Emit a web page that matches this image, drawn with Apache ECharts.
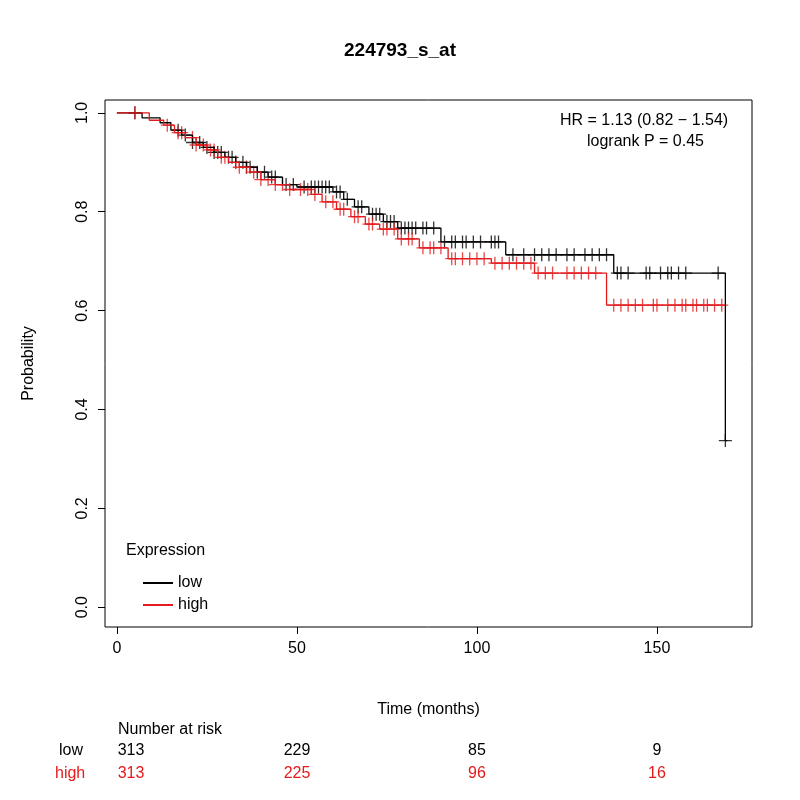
<!DOCTYPE html>
<html><head><meta charset="utf-8">
<script src="https://cdn.jsdelivr.net/npm/echarts@6/dist/echarts.min.js"></script>
<style>body{margin:0}#c{width:800px;height:800px}</style></head>
<body><div id="c"></div>
<script>
// step points [time, survival]
var lowSteps = [[0,1],[7,0.99],[12,0.98],[15,0.965],[18,0.955],[21,0.94],[24,0.93],[27,0.92],[30,0.91],[33,0.9],[36,0.89],[39,0.88],[42,0.87],[46,0.855],[50,0.85],[60,0.84],[63,0.825],[66,0.81],[70,0.795],[74,0.78],[78,0.767],[90,0.739],[108,0.713],[138,0.676],[169,0.337],[169.5,0.337]];
var highSteps = [[0,1],[9,0.985],[13,0.975],[16,0.96],[19,0.95],[22,0.935],[25,0.925],[28,0.91],[31,0.9],[34,0.89],[37,0.88],[40,0.865],[44,0.855],[48,0.845],[54,0.835],[57,0.82],[61,0.805],[65,0.79],[69,0.775],[73,0.765],[78,0.745],[84,0.727],[92,0.705],[104,0.696],[116,0.676],[136,0.611],[169,0.611]];
var lowCensor = [5,17,19,21,23,25,27,28,29,31,32,33,35,36,37,39,41,43,44,47,49,52,54,55,56,57,58,59,61,62,64,67,68,71,72,73,75,76,77,79,80,81,82,83,85,86,88,91,93,94,96,97,99,101,104,105,106,110,113,116,118,120,122,125,127,130,132,134,136,139,140,142,147,148,151,153,154,156,158,167,169];
var highCensor = [5,14,17,18,21,22,24,26,27,29,30,33,34,36,38,40,42,44,46,48,51,53,55,58,60,62,63,66,67,70,71,74,75,77,79,81,82,85,87,88,90,93,94,96,98,100,102,105,107,109,111,113,115,117,119,121,125,127,129,131,133,138,140,142,144,146,149,150,153,155,157,158,160,161,163,164,166,168];
var riskTimes = [0, 50, 100, 150];
var riskLow = [313, 229, 85, 9];
var riskHigh = [313, 225, 96, 16];
var yTicks = [0, 0.2, 0.4, 0.6, 0.8, 1];

function survAt(steps, t) {
  var v = steps[0][1];
  for (var i = 0; i < steps.length; i++) { if (steps[i][0] <= t) v = steps[i][1]; }
  return v;
}
var plus = 'path://M-1,-10H1V-1H10V1H1V10H-1V1H-10V-1H-1Z';
var chart = echarts.init(document.getElementById('c'));
var font = 'Liberation Sans, Arial, sans-serif';
function xpx(t) { return 117 + t * 3.6; }
var graphics = [
  {type:'text', left:560, top:113, style:{text:'HR = 1.13 (0.82 − 1.54)', font:'16px ' + font, fill:'#000'}},
  {type:'text', left:587, top:134, style:{text:'logrank P = 0.45', font:'16px ' + font, fill:'#000'}},
  {type:'text', left:126, top:543, style:{text:'Expression', font:'16px ' + font, fill:'#000'}},
  {type:'text', left:118, top:722, style:{text:'Number at risk', font:'16px ' + font, fill:'#000'}},
  {type:'text', left:59, top:743, style:{text:'low', font:'16px ' + font, fill:'#000'}},
  {type:'text', left:55, top:766, style:{text:'high', font:'16px ' + font, fill:'#e41a1c'}}
];
riskTimes.forEach(function (t, i) {
  graphics.push({type:'text', x:xpx(t) + (i === 0 ? 14 : 0), y:743, style:{text:String(riskLow[i]), font:'16px ' + font, fill:'#000', align:'center'}});
  graphics.push({type:'text', x:xpx(t) + (i === 0 ? 14 : 0), y:766, style:{text:String(riskHigh[i]), font:'16px ' + font, fill:'#e41a1c', align:'center'}});
});
chart.setOption({
  animation:false,
  title:{text:'224793_s_at', left:'center', top:36, textStyle:{fontFamily:font, fontSize:19, fontWeight:'bold', color:'#000'}},
  grid:{left:105, right:48, top:100, bottom:173, show:true, borderColor:'#000', borderWidth:1},
  legend:{left:138, top:570, orient:'vertical', itemWidth:30, itemHeight:2, itemGap:6, icon:'rect',
    data:['low','high'], textStyle:{fontFamily:font, fontSize:16, color:'#000'}},
  xAxis:{type:'value', min:-3.3, max:176.4, position:'bottom', name:'Time (months)', nameLocation:'middle', nameGap:75,
    nameTextStyle:{fontFamily:font, fontSize:16, color:'#000'},
    axisLine:{show:false, onZero:false}, splitLine:{show:false},
    axisTick:{show:true, inside:false, length:7, customValues:riskTimes, lineStyle:{color:'#000'}},
    axisLabel:{customValues:riskTimes, margin:14, fontFamily:font, fontSize:16, color:'#000'}},
  yAxis:{type:'value', min:-0.04, max:1.026, position:'left', name:'Probability', nameLocation:'middle', nameGap:68,
    nameTextStyle:{fontFamily:font, fontSize:16, color:'#000'},
    axisLine:{show:false, onZero:false}, splitLine:{show:false},
    axisTick:{show:true, inside:false, length:7, customValues:yTicks, lineStyle:{color:'#000'}},
    axisLabel:{customValues:yTicks, rotate:90, margin:14, fontFamily:font, fontSize:16, color:'#000',
      formatter:function(v){return v.toFixed(1);}}},
  graphic:graphics,
  series:[
    {name:'low', type:'line', step:'end', data:lowSteps, showSymbol:false, color:'#000', lineStyle:{width:1.3, color:'#000'}},
    {name:'high', type:'line', step:'end', data:highSteps, showSymbol:false, color:'#e41a1c', lineStyle:{width:1.3, color:'#e41a1c'}},
    {name:'lowc', type:'scatter', symbol:plus, symbolSize:13, itemStyle:{color:'#000'},
      data:lowCensor.map(function(t){return [t, survAt(lowSteps, t)];})},
    {name:'highc', type:'scatter', symbol:plus, symbolSize:13, itemStyle:{color:'#e41a1c'},
      data:highCensor.map(function(t){return [t, survAt(highSteps, t)];})}
  ]
});
</script></body></html>
